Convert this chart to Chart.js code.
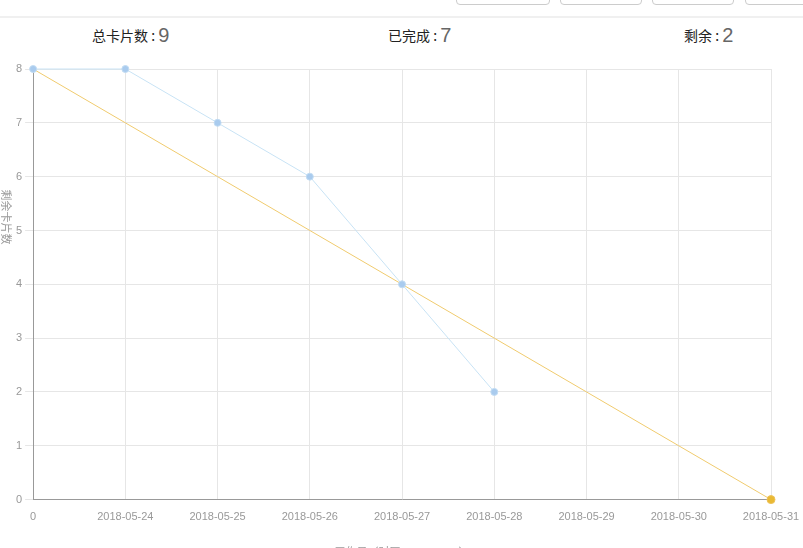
<!DOCTYPE html>
<html lang="zh">
<head>
  <meta charset="UTF-8">
  <title>燃尽图</title>
  <style>
    html, body { margin: 0; padding: 0; background: #fff; overflow: hidden; }
    body { width: 803px; height: 548px; position: relative; font-family: "Liberation Sans", "Noto Sans CJK SC", sans-serif; }
    .topbar { position: absolute; left: 0; top: 0; width: 803px; height: 16px; border-bottom: 2px solid #f0f0f0; }
    .btn { position: absolute; top: -6px; height: 9px; border: 1px solid #ccc; border-radius: 4px; background: #fff; }
    .stat { position: absolute; top: 24px; white-space: nowrap; color: #222; font-size: 14px; font-family: "Noto Sans CJK SC", sans-serif; }
    .stat b { font-weight: normal; font-size: 20px; color: #666; font-family: "Liberation Sans", sans-serif; vertical-align: -1px; }
    #chart { position: absolute; left: 0; top: 50px; }
  </style>
</head>
<body>
  <div class="topbar">
    <div class="btn" style="left:456px;width:92px"></div>
    <div class="btn" style="left:560px;width:80px"></div>
    <div class="btn" style="left:652px;width:80px"></div>
    <div class="btn" style="left:745px;width:80px"></div>
  </div>
  <div class="stat" style="left:92px">总卡片数 : <b>9</b></div>
  <div class="stat" style="left:388px">已完成 : <b>7</b></div>
  <div class="stat" style="left:684px">剩余 : <b>2</b></div>
  <canvas id="chart" width="803" height="520"></canvas>

  <script src="https://cdn.jsdelivr.net/npm/chart.js@4/dist/chart.umd.min.js"></script>
  <script>
    // x 轴日期
    const categories = ['0', '2018-05-24', '2018-05-25', '2018-05-26', '2018-05-27',
      '2018-05-28', '2018-05-29', '2018-05-30', '2018-05-31'];
    // 实际剩余卡片
    const remaining = [8, 8, 7, 6, 4, 2];
    // 理想燃尽线
    const ideal = [8, 7, 6, 5, 4, 3, 2, 1, 0];
    const yMax = 8;

    const yTitle = '剩余卡片数';
    const xTitle = '工作日（时区 GMT +8:00 ）';

    // y 轴标题顺时针旋转
    const yTitlePlugin = {
      id: 'yTitle',
      afterDraw(chart) {
        const ctx = chart.ctx;
        ctx.save();
        ctx.translate(6, 167);
        ctx.rotate(Math.PI / 2);
        ctx.font = '11px "Noto Sans CJK SC", sans-serif';
        ctx.fillStyle = '#999';
        ctx.textAlign = 'center';
        ctx.textBaseline = 'middle';
        ctx.fillText(yTitle, 0, 0);
        ctx.restore();
      }
    };

    const tickFont = { family: '"Liberation Sans", Arial, sans-serif', size: 11 };

    new Chart(document.querySelector('#chart').getContext('2d'), {
      type: 'line',
      data: {
        labels: categories,
        datasets: [{
          label: '实际',
          data: remaining,
          borderColor: '#c8e3f5',
          borderWidth: 1,
          backgroundColor: '#a9cbee',
          pointBorderColor: '#c2dcf3',
          pointBackgroundColor: '#a9cbee',
          pointRadius: 3.5,
          pointBorderWidth: 1,
          tension: 0,
          fill: false,
          clip: false
        }, {
          label: '理想',
          data: ideal,
          borderColor: '#f0cb6e',
          borderWidth: 1,
          pointBackgroundColor: '#e9b933',
          pointBorderColor: '#eec25a',
          pointRadius: (c) => c.dataIndex === ideal.length - 1 ? 4 : 0,
          tension: 0,
          fill: false,
          clip: false
        }]
      },
      options: {
        responsive: false,
        animation: false,
        layout: { padding: { left: 13, right: 0, top: 19, bottom: 4 } },
        plugins: {
          legend: { display: false },
          tooltip: { enabled: false }
        },
        scales: {
          x: {
            afterFit: (s) => { s.paddingRight = 32; s.paddingLeft = 0; },
            grid: { color: '#e6e6e6', drawTicks: false },
            border: { color: '#999' },
            ticks: { color: '#999', font: tickFont, padding: 11, maxRotation: 0, autoSkip: false },
            title: {
              display: true,
              text: xTitle,
              color: '#999',
              font: { family: '"Noto Sans CJK SC", sans-serif', size: 11 },
              padding: { top: 10, bottom: 8 }
            }
          },
          y: {
            min: 0,
            max: yMax,
            grid: { color: '#e6e6e6', tickLength: 8 },
            border: { color: '#999' },
            ticks: { color: '#999', font: tickFont, stepSize: 1, padding: 3 }
          }
        }
      },
      plugins: [yTitlePlugin]
    });
  </script>
</body>
</html>
